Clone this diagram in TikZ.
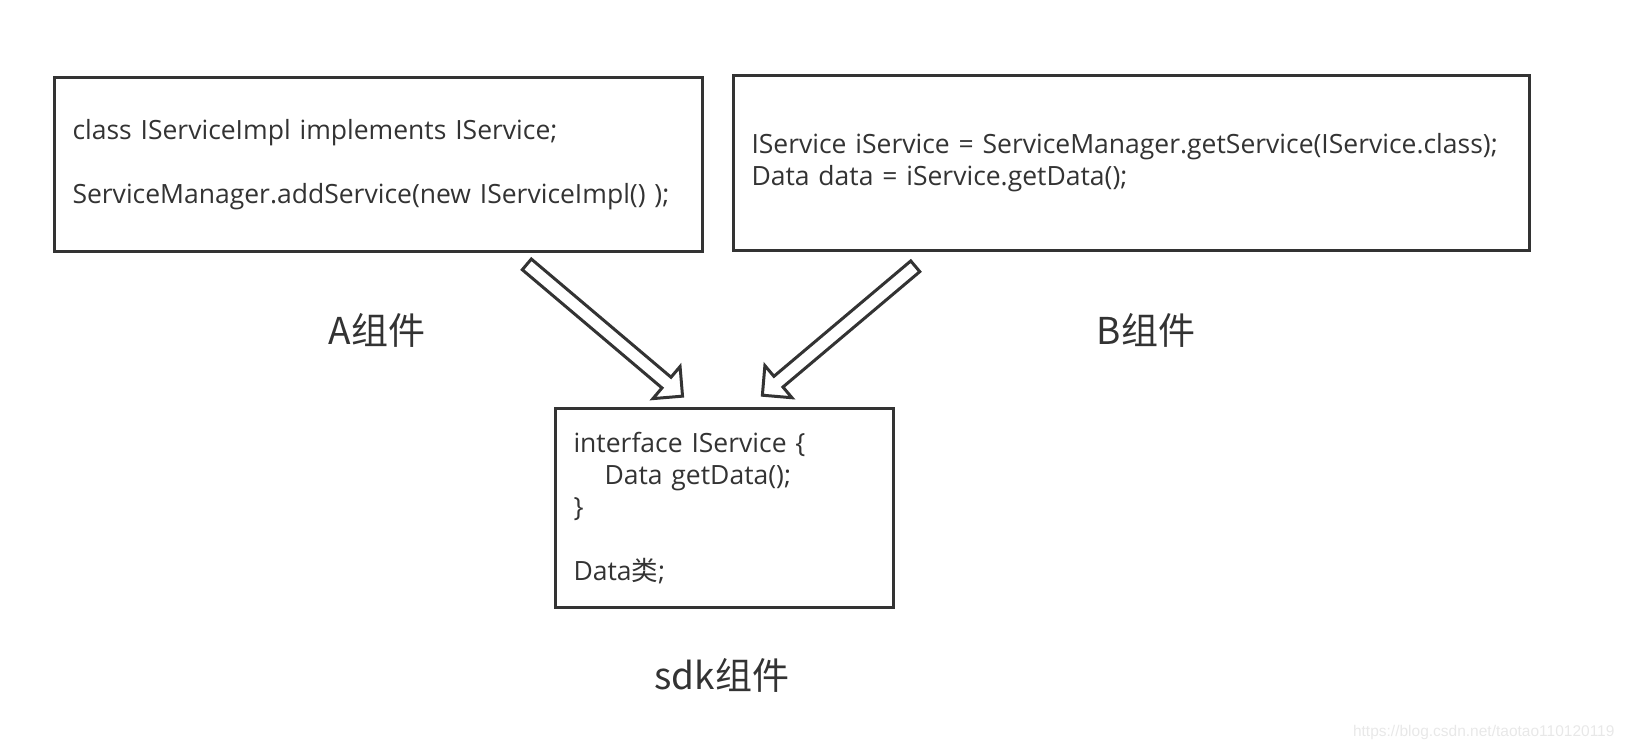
\documentclass[tikz,border=0pt]{standalone}
\usepackage{fontspec}
\setmainfont{Open Sans}
\newfontfamily\cjk{Noto Sans CJK SC}
\newfontfamily\markfont{Liberation Sans}
\usetikzlibrary{shapes.arrows}
\definecolor{ink}{HTML}{333333}
\tikzset{
  codebox/.style={draw=ink, line width=3pt, anchor=north west, align=left, inner xsep=18pt, text=ink, font=\fontsize{26.5}{32}\selectfont},
  fatarrow/.style={draw=ink, line width=3pt, single arrow, single arrow head extend=14pt, inner xsep=0pt, inner ysep=5.5pt, sloped, allow upside down, midway},
  tag/.style={text=ink, font=\cjk\fontsize{37}{42}\selectfont}
}
\begin{document}
\begin{tikzpicture}[x=1pt, y=-1pt]
    \useasboundingbox (0,0) rectangle (1626,750);
    \node[codebox, minimum width=648pt, minimum height=174pt, text width=612pt] (A) at (53,76)
        {class IServiceImpl implements IService;\\[32pt]ServiceManager.addService(new IServiceImpl() );};
    \node[codebox, minimum width=796pt, minimum height=175pt, text width=760pt] (B) at (732,74)
        {IService iService = ServiceManager.getService(IService.class);\\Data data = iService.getData();};
    \node[codebox, minimum width=338pt, minimum height=199pt, text width=302pt] (sdk) at (554,407)
        {interface IService \{\\\hspace*{31pt}Data getData();\\\}\\[32pt]Data{\cjk 类};};

    \node[tag] (labelA) at (377,330) {A组件};
    \node[tag] (labelB) at (1146,330) {B组件};
    \node[tag] (labelsdk) at (722,675) {sdk组件};

    \coordinate (tailA) at (524,262);
    \coordinate (tipA) at (680,394);
    \coordinate (tailB) at (918,264);
    \coordinate (tipB) at (765,393);
    \path (tailA) -- (tipA) node[fatarrow, minimum height=204pt] (arrowA) {};
    \path (tailB) -- (tipB) node[fatarrow, minimum height=200pt] (arrowB) {};

    \node[text=black!9, font=\markfont\fontsize{15.5}{17}\selectfont, anchor=base east] (mark) at (1618,736)
        {https://blog.csdn.net/taotao110120119};
\end{tikzpicture}
\end{document}
